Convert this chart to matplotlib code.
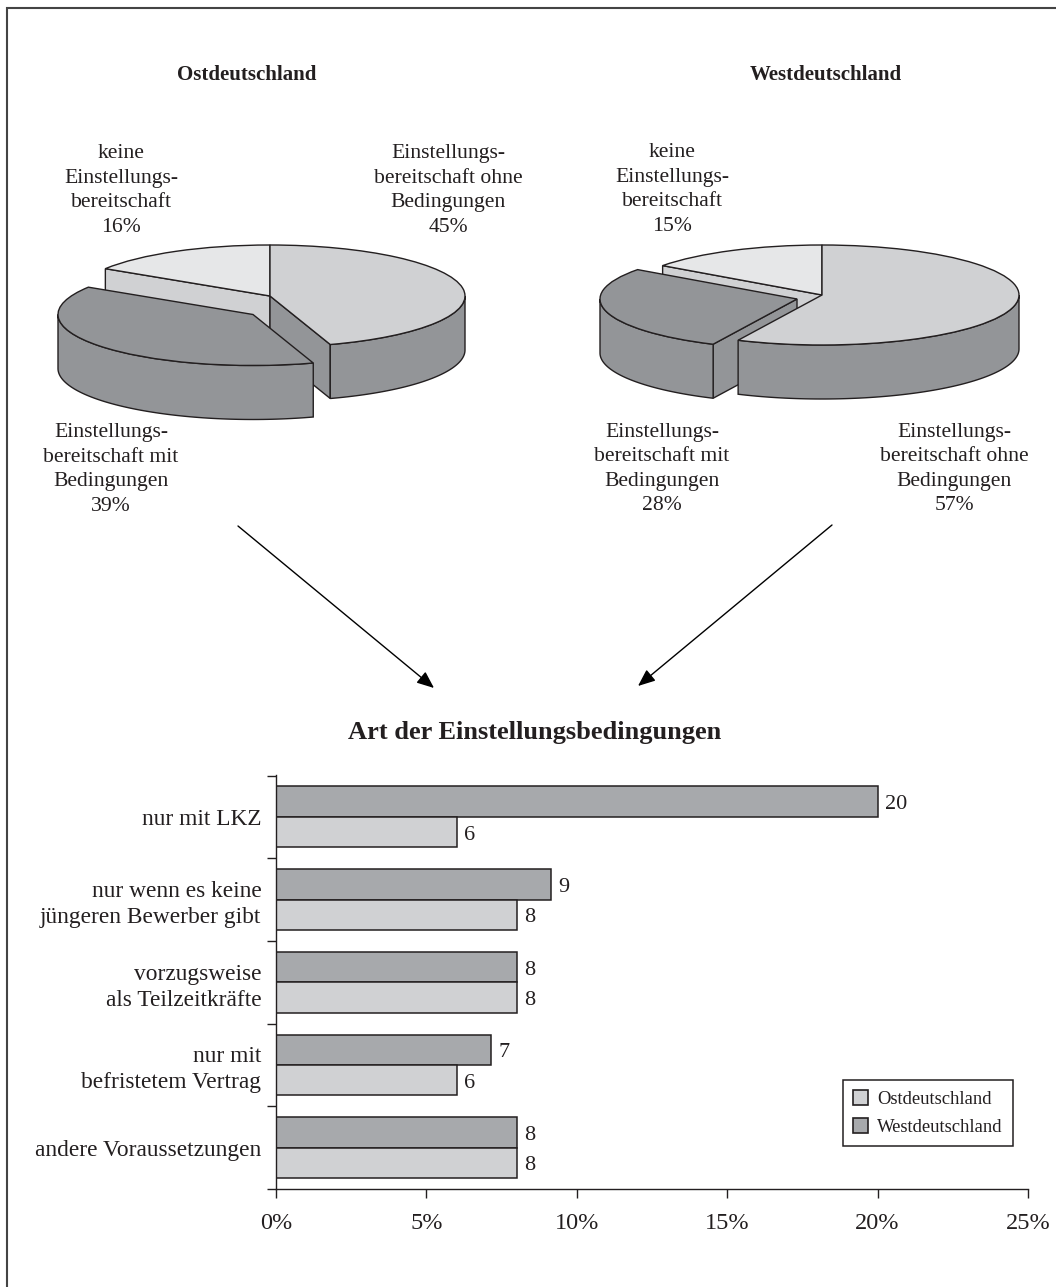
import numpy as np
import matplotlib
matplotlib.use("Agg")
import matplotlib.pyplot as plt
from matplotlib.patches import Patch
from matplotlib.lines import Line2D

plt.rcParams['font.family'] = ['Liberation Serif', 'DejaVu Serif']
W, H = 1056, 1287
INK = '#231f20'

# ---------- data ----------
pie_names = ['ohne', 'mit', 'keine']
ost_shares = [45, 39, 16]
west_shares = [57, 28, 15]
categories = ['nur mit LKZ', 'nur wenn es keine\njüngeren Bewerber gibt',
              'vorzugsweise\nals Teilzeitkräfte', 'nur mit\nbefristetem Vertrag',
              'andere Voraussetzungen']
ost_values = [6.02, 8, 8, 6.02, 8]
west_values = [20, 9.15, 8, 7.15, 8]
x_ticks = [0, 5, 10, 15, 20, 25]
x_ticklabels = ['0%', '5%', '10%', '15%', '20%', '25%']
ost_labels = ['keine\nEinstellungs-\nbereitschaft\n16%',
              'Einstellungs-\nbereitschaft ohne\nBedingungen\n45%',
              'Einstellungs-\nbereitschaft mit\nBedingungen\n39%']
west_labels = ['keine\nEinstellungs-\nbereitschaft\n15%',
               'Einstellungs-\nbereitschaft mit\nBedingungen\n28%',
               'Einstellungs-\nbereitschaft ohne\nBedingungen\n57%']

C_LIGHT = '#e6e7e8'
C_MID = '#d0d1d3'
C_DARK = '#939598'
C_WEST = '#a7a9ac'

fig = plt.figure(figsize=(W / 100, H / 100), dpi=100, facecolor='white')


def px_axes(x0, y0, x1, y1):
    return fig.add_axes([x0 / W, 1 - y1 / H, (x1 - x0) / W, (y1 - y0) / H])


def ftext(x, y, s, **kw):
    kw.setdefault('ha', 'center')
    kw.setdefault('va', 'center')
    kw.setdefault('color', INK)
    fig.text(x / W, 1 - y / H, s, **kw)


def pie3d(cx, cy, rx, ry, thick_px, shares, offset_px, front_order):
    """shares: clockwise from top [ohne, mit, keine]; the 'mit' slice is pulled out."""
    ax = px_axes(cx - 1.2 * rx, cy - 1.2 * ry, cx + 1.2 * rx, cy + 1.2 * ry + thick_px + 30)
    wedges, _ = ax.pie(shares, startangle=90, counterclock=False, radius=1,
                       colors=[C_MID, C_DARK, C_LIGHT],
                       wedgeprops=dict(edgecolor=INK, linewidth=1.0))
    ax.set_aspect('auto')
    ax.set_xlim(-1.2, 1.2)
    ax.set_ylim(-1.2 - (thick_px + 30) / ry, 1.2)
    t = thick_px / ry
    off = np.array([offset_px[0] / rx, -offset_px[1] / ry])
    wedges[1].set_center(tuple(off))

    edges = np.radians(np.cumsum([0] + list(shares)) * 3.6)  # clockwise from top
    pt = lambda a, o=(0, 0): (np.sin(a) + o[0], np.cos(a) + o[1])

    def poly(pts, z):
        xs, ys = zip(*pts)
        ax.fill(xs, ys, facecolor=C_DARK if z != 1 else C_MID, edgecolor=INK, linewidth=1.0,
                zorder=z, joinstyle='miter')

    def wall(a0, a1, o, z):
        aa = np.linspace(a0, a1, 80)
        top = [pt(a, o) for a in aa]
        bottom = [(x, y - t) for x, y in reversed(top)]
        poly(top + bottom, z)

    def face(a, o, z):
        ap = (o[0], o[1])
        e = pt(a, o)
        poly([ap, e, (e[0], e[1] - t), (ap[0], ap[1] - t)], z)

    a_ohne, a_mit = edges[1], edges[2]
    # back slice
    face(a_mit, (0, 0), 1)
    wedges[2].set_zorder(2)
    z_ohne, z_mit = front_order
    # 'ohne' slice
    if a_ohne < np.pi:
        face(a_ohne, (0, 0), z_ohne)
        wall(np.pi / 2, a_ohne, (0, 0), z_ohne)
    else:
        wall(np.pi / 2, a_ohne, (0, 0), z_ohne)
    wedges[0].set_zorder(z_ohne + 0.5)
    # exploded 'mit' slice
    if a_ohne >= np.pi:
        face(a_ohne, off, z_mit)
    wall(a_ohne, 1.5 * np.pi, off, z_mit)
    wedges[1].set_zorder(z_mit + 0.5)
    ax.set_frame_on(False)
    return ax


pie3d(270, 296, 195, 51, 54, ost_shares, (-17, 18.5), (3, 5))
pie3d(822, 295, 197, 50, 54, west_shares, (-25, 4), (5, 3))

# ---------- texts above ----------
ftext(247, 74.5, 'Ostdeutschland', fontsize=15, fontweight='bold')
ftext(826, 74.5, 'Westdeutschland', fontsize=15, fontweight='bold')
ftext(535, 732.5, 'Art der Einstellungsbedingungen', fontsize=19, fontweight='bold')

lab_kw = dict(fontsize=15.6, linespacing=1.4)
ftext(121, 190.5, ost_labels[0], **lab_kw)
ftext(448, 190.5, ost_labels[1], **lab_kw)
ftext(111, 469.5, ost_labels[2], **lab_kw)
ftext(672, 189.5, west_labels[0], **lab_kw)
ftext(662, 469, west_labels[1], **lab_kw)
ftext(954, 469, west_labels[2], **lab_kw)

# ---------- overlay (frame + arrows) ----------
ov = fig.add_axes([0, 0, 1, 1], zorder=10)
ov.set_xlim(0, W)
ov.set_ylim(H, 0)
ov.axis('off')
ov.patch.set_alpha(0)
ov.add_line(Line2D([6.5, 6.5, W], [H, 7.5, 7.5], color='#444444', lw=1.5, solid_joinstyle='miter'))
for start, end in [((238, 526), (434, 688)), ((832, 525), (638, 686))]:
    ov.annotate('', xy=end, xytext=start,
                arrowprops=dict(arrowstyle='-|>,head_length=0.65,head_width=0.27', color='black',
                                lw=1.0, shrinkA=0, shrinkB=0, mutation_scale=16))

# ---------- bars ----------
ax = px_axes(276, 775, 1028, 1189)
y = np.arange(len(categories))
bh = 30.5 / (414 / 5)
ax.barh(y - bh / 2, west_values, height=bh, color=C_WEST, edgecolor=INK, linewidth=1.1)
ax.barh(y + bh / 2, ost_values, height=bh, color=C_MID, edgecolor=INK, linewidth=1.1)
ax.set_xlim(0, 25)
ax.set_ylim(4.493, -0.507)
for i in y:
    ax.annotate(f'{west_values[i]:.0f}', (west_values[i], i - bh / 2), xytext=(5.2, -2.2),
                textcoords='offset points', va='center', ha='left', fontsize=16, color=INK)
    ax.annotate(f'{ost_values[i]:.0f}', (ost_values[i], i + bh / 2), xytext=(5.2, -2.2),
                textcoords='offset points', va='center', ha='left', fontsize=16, color=INK)
for s in ('top', 'right'):
    ax.spines[s].set_visible(False)
for s in ('left', 'bottom'):
    ax.spines[s].set_color(INK)
    ax.spines[s].set_linewidth(1.0)
ax.set_xticks(x_ticks)
ax.set_xticklabels(x_ticklabels, fontsize=17.5, color=INK)
ax.tick_params(axis='x', length=6.5, width=1, color=INK, pad=11)
ax.set_yticks(np.arange(-0.5, 5, 1))
ax.set_yticklabels([])
ax.tick_params(axis='y', length=6.5, width=1, color=INK)
ax.set_yticks(y, minor=True)
ax.set_yticklabels(categories, minor=True, fontsize=16.8, color=INK, linespacing=1.3, ha='right')
ax.tick_params(axis='y', which='minor', length=0, pad=10.5)

handles = [Patch(facecolor=C_MID, edgecolor=INK, lw=1.2, label='Ostdeutschland'),
           Patch(facecolor=C_WEST, edgecolor=INK, lw=1.2, label='Westdeutschland')]
leg = ax.legend(handles=handles, loc='lower left',
                bbox_to_anchor=((843 - 276) / 752, (1189 - 1146) / 414, 170 / 752, 65 / 414),
                mode='expand', borderaxespad=0, fontsize=13.4, frameon=True, fancybox=False,
                edgecolor=INK, framealpha=1, handlelength=0.8, handleheight=0.85,
                labelspacing=0.55, handletextpad=0.5, borderpad=0.55)
leg.get_frame().set_linewidth(1.1)
for t_ in leg.get_texts():
    t_.set_color(INK)

fig.savefig('out.png', dpi=100, facecolor='white')
